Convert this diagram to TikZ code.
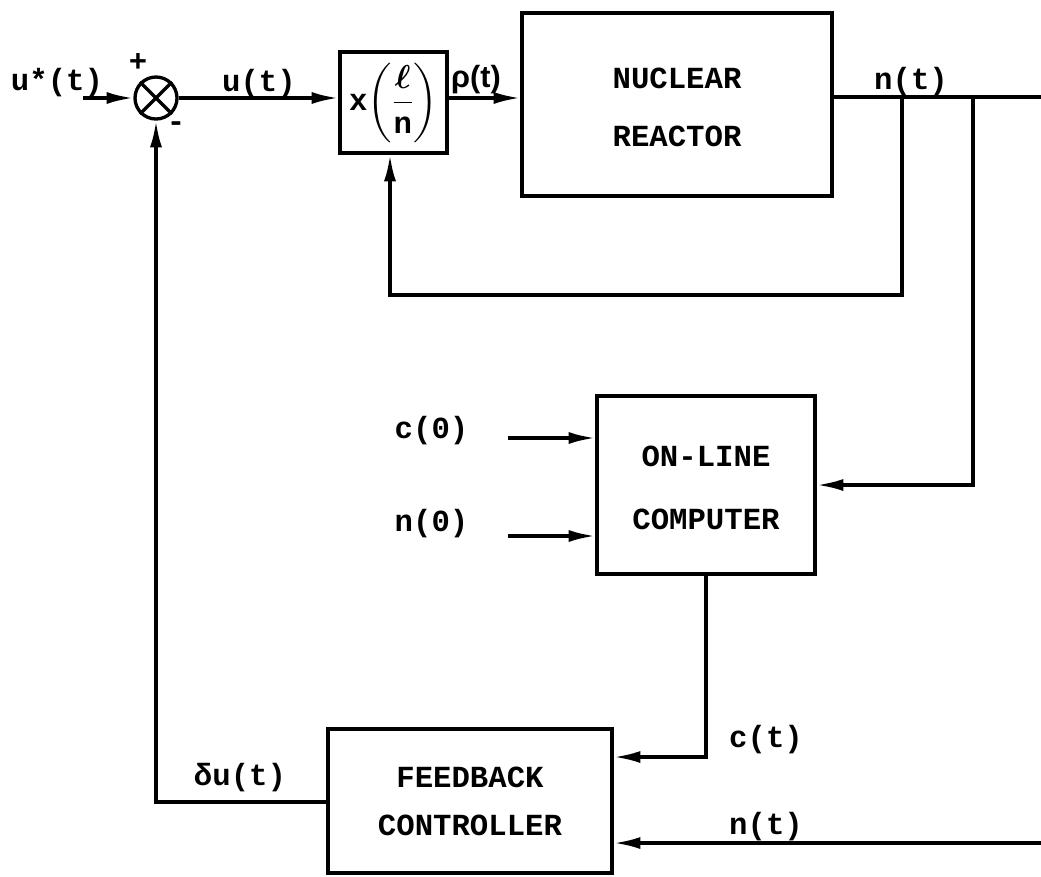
\documentclass[tikz,border=0pt]{standalone}
\usepackage{amsmath}
\usepackage{bm}
\usepackage{fontspec}
\setmainfont{Liberation Mono}
\newfontfamily\lsans{Liberation Sans}
\usetikzlibrary{arrows.meta}
\begin{document}
\begin{tikzpicture}[x=0.75pt,y=-0.75pt,
  line width=2.5pt,
  every node/.style={font=\fontsize{23}{28}\selectfont\bfseries},
  blk/.style={draw, line width=2.5pt, rectangle, inner sep=0pt, align=center},
  arr/.style={-{Latex[length=20pt,width=9pt]}},
  lbl/.style={inner sep=0pt}
]
\useasboundingbox (0,0) rectangle (1041,876);
% summing junction
\node[draw, circle, minimum size=31.5pt, inner sep=0pt] (sum) at (156,98) {};
\draw (sum.north east) -- (sum.south west) (sum.north west) -- (sum.south east);
% blocks
\node[blk, minimum width=80.25pt, minimum height=75.75pt] (xb) at (393.5,102.5) {x$\left(\dfrac{\bm{\ell}}{\mbox{n}}\right)$};
\node[blk, minimum width=232.5pt, minimum height=137.25pt] (rx) at (677,104.5) {\raisebox{-4.5pt}[\height][\depth]{\begin{tabular}{@{}c@{}}NUCLEAR\\[15.5pt]REACTOR\end{tabular}}};
\node[blk, minimum width=163.5pt, minimum height=133.5pt] (cp) at (706,485) {\raisebox{-4pt}[\height][\depth]{\begin{tabular}{@{}c@{}}ON-LINE\\[19pt]COMPUTER\end{tabular}}};
\node[blk, minimum width=213pt, minimum height=108pt] (ct) at (470,801) {FEEDBACK\\[8pt]CONTROLLER};
% coordinates
\coordinate (uin) at (83,98);
\coordinate (nend) at (1041,97);
\coordinate (b1) at (902,97);
\coordinate (b2) at (973,97);
\coordinate (fb) at (390,295);
\coordinate (c0s) at (508,438);
\coordinate (n0s) at (508,536);
\coordinate (ctin) at (706,757);
\coordinate (nin) at (1041,843);
\coordinate (du) at (156,802);
% connectors
\draw[arr] (uin) -- (sum.west);
\draw[arr] (sum.east) -- (sum.east -| xb.west);
\draw[arr] (sum.east -| xb.east) -- (sum.east -| rx.west);
\draw (rx.east |- nend) -- (nend);
\draw[arr] (b1) -- (b1 |- fb) -- (fb) -- (fb |- xb.south);
\draw[arr] (b2) -- (b2 |- cp.east) -- (cp.east);
\draw[arr] (c0s) -- (c0s -| cp.west);
\draw[arr] (n0s) -- (n0s -| cp.west);
\draw[arr] (cp.south) -- (ctin) -- (ctin -| ct.east);
\draw[arr] (nin) -- (nin -| ct.east);
\draw[arr] (du -| ct.west) -- (du) -- (sum.south);
% labels
\node (lus) at (57,83) {u*(t)};
\node (lp) at (138,63) {+};
\node (lm) at (176,127) {-};
\node (lu) at (259,84) {u(t)};
\node[font=\lsans\fontsize{23}{28}\selectfont\bfseries] (lr) at (476,80) {ρ(t)};
\node (ln) at (911,82) {n(t)};
\node[lbl, anchor=east] (c0) at (470,431) {c(0)};
\node[lbl, anchor=east] (n0) at (470,524) {n(0)};
\node (ldu) at (240,778) {δu(t)};
\node (lc) at (766,740) {c(t)};
\node (ln2) at (766,827) {n(t)};
\end{tikzpicture}
\end{document}
